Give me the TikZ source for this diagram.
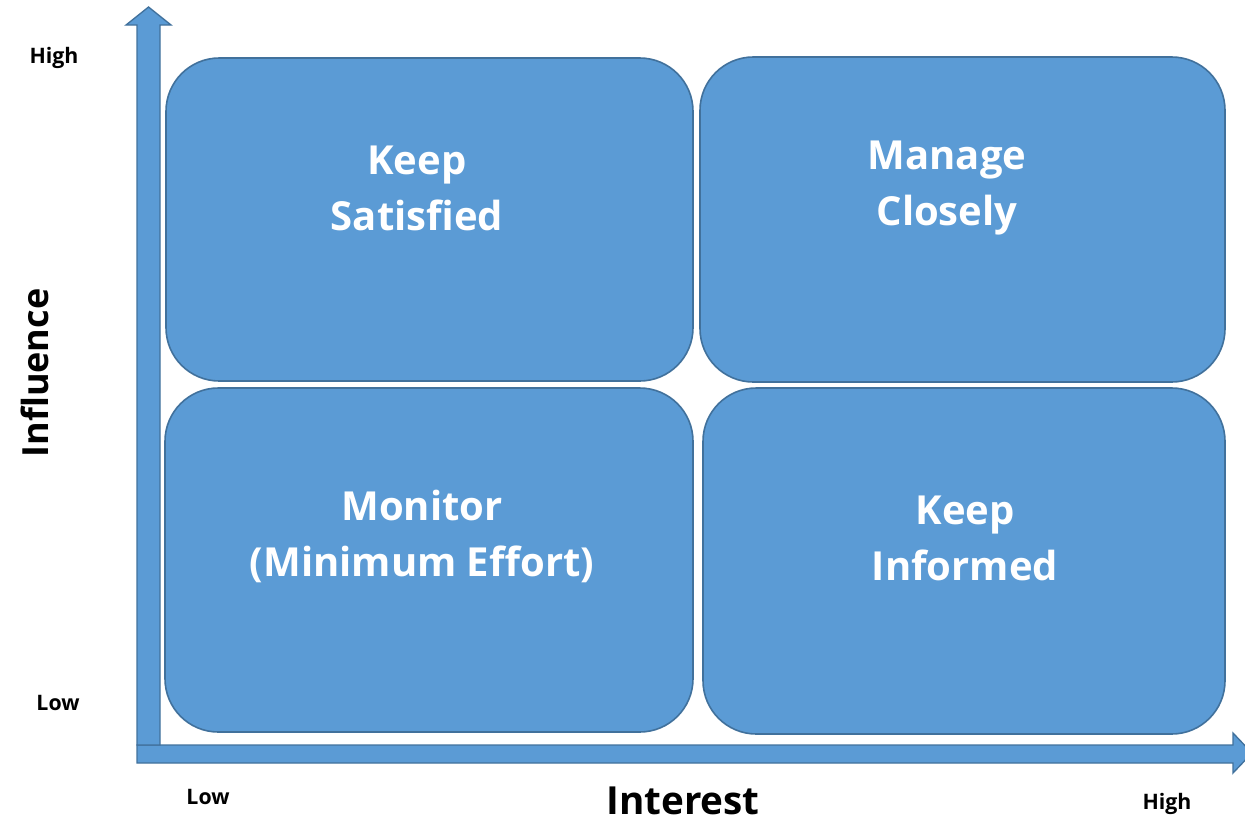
\documentclass[tikz,border=0pt]{standalone}
\usepackage{fontspec}
\setmainfont{Open Sans}
\definecolor{boxfill}{HTML}{5B9BD5}
\definecolor{boxline}{HTML}{41719C}
\begin{document}
\begin{tikzpicture}[x=0.75pt,y=-0.75pt,
  quad/.style={draw=boxline,line width=1.2pt,fill=boxfill,rounded corners=40pt},
  quadtext/.style={text=white,font=\bfseries\fontsize{30}{36}\selectfont,align=center},
  axisarrow/.style={draw=boxline,line width=1pt,fill=boxfill},
  small/.style={font=\bfseries\fontsize{16}{19}\selectfont,text=black},
  axislabel/.style={text=black}]
\useasboundingbox (0,0) rectangle (1245,822);
% axes
\draw[axisarrow] (137,745) -- (1233,745) -- (1233,733) -- (1252,753) -- (1233,773) -- (1233,763) -- (137,763) -- cycle;
\draw[axisarrow] (137,745) -- (137,25) -- (126,25) -- (148.5,7) -- (171,25) -- (160,25) -- (160,745) -- cycle;
% quadrants
\path[quad] (166,58) rectangle (693,381);
\node[quadtext] (ks) at (417,188) {Keep\\[6pt]Satisfied};
\path[quad] (700,57) rectangle (1225,382);
\node[quadtext] (mc) at (947,188) {Manage\\[6pt]Closely};
\path[quad] (165,388) rectangle (693,732);
\node[quadtext] (mo) at (422,536) {Monitor\\[6pt](Minimum Effort)};
\path[quad] (703,388) rectangle (1225,734);
\node[quadtext] (ki) at (965,538) {Keep\\[6pt]Informed};
% labels
\node[small] (hy) at (54,58) {High};
\node[small] (ly) at (58,703) {Low};
\node[small] (lx) at (208,797) {Low};
\node[small] (hx) at (1167,804) {High};
\node[axislabel,rotate=90,font=\bfseries\fontsize{27}{32}\selectfont] (infl) at (35,373) {Influence};
\node[axislabel,inner sep=0pt,font=\bfseries\fontsize{29}{34}\selectfont] (intr) at (683,801) {Interest};
\end{tikzpicture}
\end{document}
